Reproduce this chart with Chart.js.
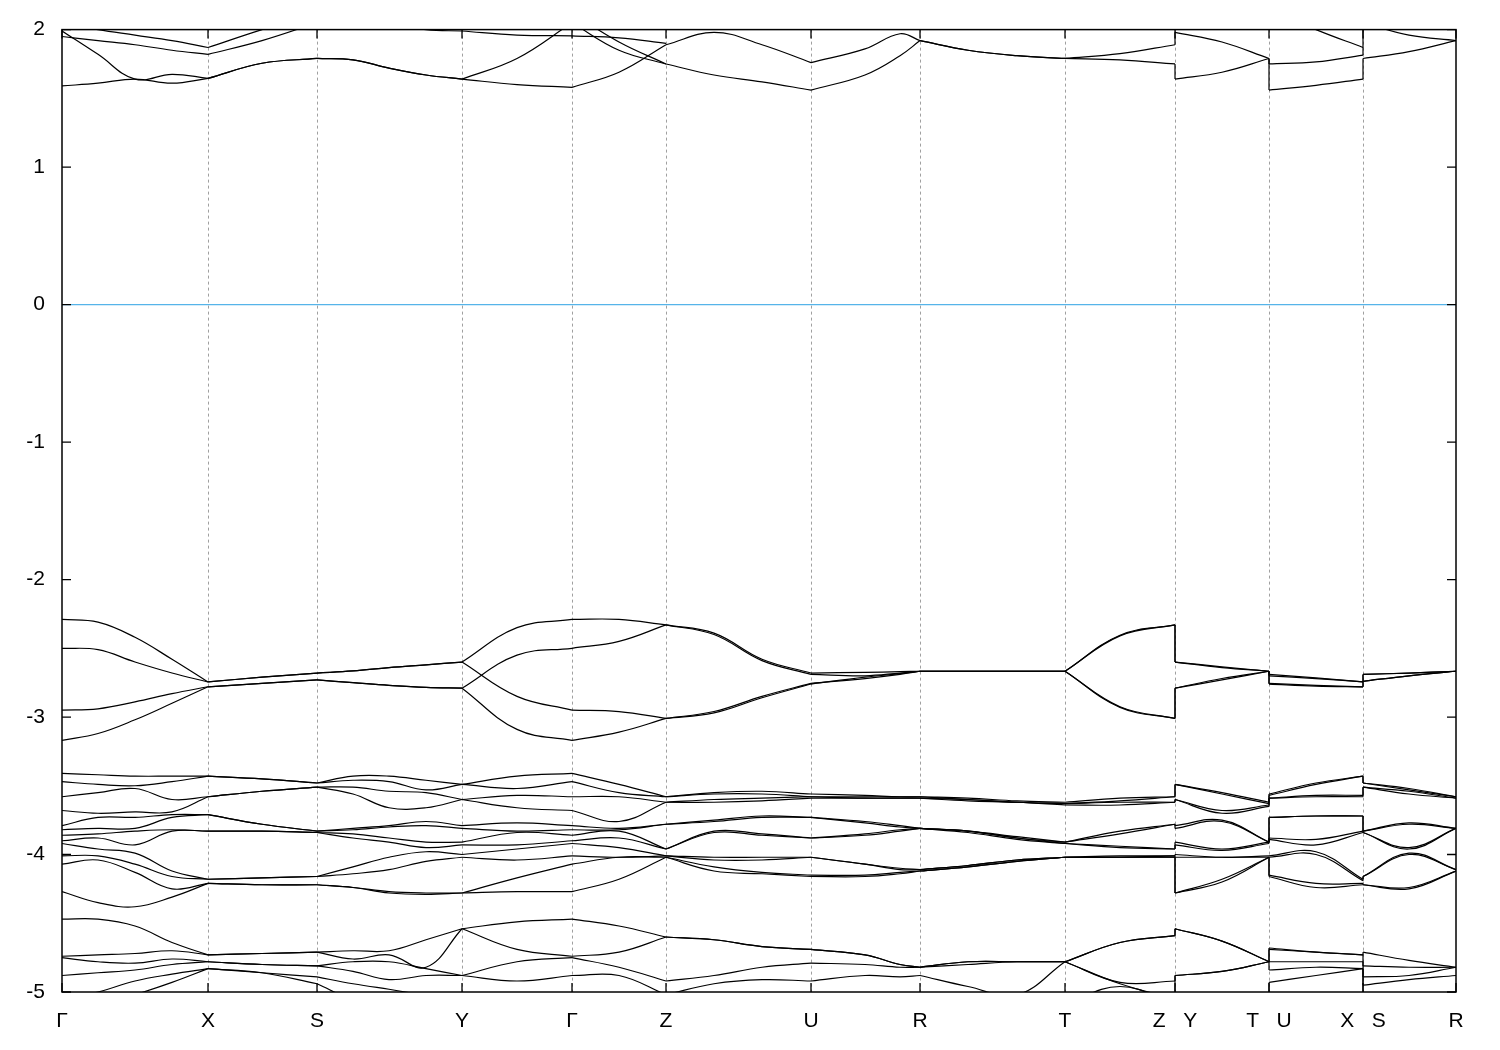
<!DOCTYPE html>
<html>
<head>
<meta charset="utf-8">
<script src="https://cdn.jsdelivr.net/npm/chart.js@4.4.1/dist/chart.umd.min.js"></script>
<style>
  html, body { margin: 0; padding: 0; background: #fff; }
</style>
</head>
<body>
<canvas id="bands" width="1500" height="1050"></canvas>
<script>
// k-path (distance along the path) where energies were read
const kPath = [0, 0.036, 0.073, 0.110, 0.146, 0.200, 0.255, 0.291, 0.327, 0.364, 0.400, 0.455, 0.510, 0.557,
  0.604, 0.652, 0.700, 0.749, 0.803, 0.838, 0.858, 0.906, 0.955, 1.003, 1.058, 1.113, 1.113, 1.160, 1.207, 1.207,
  1.254, 1.301, 1.301, 1.347, 1.394];
// high symmetry points
const kTicks = [0, 0.146, 0.255, 0.400, 0.510, 0.604, 0.749, 0.858, 1.003, 1.113, 1.207, 1.301, 1.394];
const kLabels = ['Γ', 'X', 'S', 'Y', 'Γ', 'Z', 'U', 'R', 'T', 'Z   Y', 'T   U', 'X   S', 'R'];
// indexes of kPath where a path piece starts/ends (jumps included)
const segBreaks = [0, 4, 6, 10, 12, 14, 17, 20, 23, 25, 26, 28, 29, 31, 32, 34];
const eTicks = [2, 1, 0, -1, -2, -3, -4, -5];
const eFermi = 0;

// a line that only exists on part of the path
function pathLine(from, vals) {
  const a = kPath.map(() => null);
  vals.forEach((v, i) => { a[from + i] = v; });
  return a;
}

// conduction lines (eV)
const condA = [1.59, 1.61, 1.64, 1.61, 1.645, 1.755, 1.79, 1.78, 1.72, 1.67, 1.64, 1.60, 1.58, 1.69, 1.89, 1.98, 1.89,
  1.76, 1.86, 1.97, 1.92, 1.85, 1.81, 1.79, 1.825, 1.89, 1.98, 1.91, 1.79, 1.75, 1.765, 1.815, 2.05, 1.96, 1.92];
const condB = [1.99, 1.82, 1.64, 1.675, 1.645, 1.755, 1.79, 1.78, 1.72, 1.67, 1.64, 1.79, 2.05, 1.85, 1.75, 1.67, 1.62,
  1.56, 1.67, 1.81, 1.92, 1.85, 1.81, 1.79, 1.78, 1.75, 1.64, 1.69, 1.79, 1.56, 1.595, 1.64, 1.79, 1.84, 1.92];
const condC = pathLine(8, [2.05, 2.00, 1.99, 1.96, 1.955, 1.94, 1.90]);
const condD = pathLine(0, [1.95, 1.92, 1.89, 1.85, 1.82, 1.92, 2.05]);
const condE = pathLine(0, [2.05, 2.00, 1.96, 1.92, 1.87, 2.00, 2.12]);
const condF = pathLine(12, [2.12, 1.91, 1.75]);
const condG = pathLine(29, [2.15, 2.00, 1.87]);

// valence group near -2.3 .. -3.2 eV
const valA = [-2.29, -2.31, -2.42, -2.58, -2.745, -2.71, -2.68, -2.665, -2.64, -2.62, -2.60, -2.35, -2.29, -2.29, -2.33,
  -2.39, -2.58, -2.68, -2.675, -2.67, -2.667, -2.667, -2.667, -2.667, -2.405, -2.33, -2.60, -2.635, -2.667, -2.69,
  -2.715, -2.745, -2.69, -2.68, -2.667];
const valB = [-2.50, -2.51, -2.60, -2.68, -2.745, -2.71, -2.68, -2.665, -2.64, -2.62, -2.60, -2.85, -2.95, -2.96, -3.01,
  -2.96, -2.85, -2.755, -2.72, -2.69, -2.667, -2.667, -2.667, -2.667, -2.925, -3.01, -2.79, -2.72, -2.667, -2.755,
  -2.77, -2.78, -2.74, -2.70, -2.667];
const valC = [-2.95, -2.94, -2.89, -2.83, -2.78, -2.755, -2.73, -2.75, -2.77, -2.785, -2.79, -2.55, -2.50, -2.45, -2.33,
  -2.40, -2.59, -2.69, -2.70, -2.68, -2.667, -2.667, -2.667, -2.667, -2.41, -2.33, -2.60, -2.64, -2.667, -2.70,
  -2.72, -2.745, -2.69, -2.68, -2.667];
const valD = [-3.17, -3.12, -3.02, -2.90, -2.78, -2.755, -2.73, -2.75, -2.77, -2.785, -2.79, -3.09, -3.17, -3.11, -3.01,
  -2.97, -2.86, -2.76, -2.71, -2.685, -2.667, -2.667, -2.667, -2.667, -2.93, -3.01, -2.79, -2.73, -2.667, -2.76,
  -2.775, -2.78, -2.74, -2.70, -2.667];

// group -3.4 .. -4.4 eV, one row per kPath point (12 bands, sorted)
const deepCols = [
  [-3.41, -3.47, -3.58, -3.68, -3.79, -3.82, -3.86, -3.90, -3.92, -4.01, -4.07, -4.27],
  [-3.42, -3.49, -3.55, -3.70, -3.73, -3.81, -3.85, -3.88, -3.96, -4.01, -4.04, -4.35],
  [-3.43, -3.50, -3.52, -3.69, -3.73, -3.81, -3.83, -3.93, -3.99, -4.07, -4.13, -4.38],
  [-3.43, -3.47, -3.60, -3.69, -3.71, -3.73, -3.82, -3.83, -4.12, -4.16, -4.25, -4.31],
  [-3.43, -3.43, -3.58, -3.58, -3.71, -3.71, -3.83, -3.83, -4.18, -4.18, -4.21, -4.21],
  [-3.45, -3.45, -3.54, -3.54, -3.78, -3.78, -3.83, -3.83, -4.17, -4.17, -4.22, -4.22],
  [-3.48, -3.48, -3.51, -3.51, -3.83, -3.83, -3.84, -3.84, -4.16, -4.16, -4.22, -4.22],
  [-3.43, -3.46, -3.51, -3.56, -3.81, -3.82, -3.85, -3.88, -4.09, -4.14, -4.24, -4.24],
  [-3.43, -3.47, -3.54, -3.66, -3.79, -3.80, -3.88, -3.91, -4.02, -4.11, -4.27, -4.28],
  [-3.46, -3.53, -3.55, -3.66, -3.76, -3.79, -3.91, -3.95, -3.98, -4.05, -4.28, -4.29],
  [-3.49, -3.49, -3.60, -3.60, -3.79, -3.81, -3.91, -3.93, -4.00, -4.02, -4.28, -4.28],
  [-3.43, -3.52, -3.57, -3.66, -3.77, -3.83, -3.84, -3.93, -3.96, -4.04, -4.17, -4.27],
  [-3.41, -3.47, -3.58, -3.68, -3.79, -3.82, -3.86, -3.90, -3.92, -4.01, -4.07, -4.27],
  [-3.49, -3.55, -3.58, -3.76, -3.81, -3.82, -3.83, -3.88, -3.95, -4.02, -4.02, -4.18],
  [-3.58, -3.58, -3.62, -3.62, -3.78, -3.78, -3.96, -3.96, -4.01, -4.01, -4.02, -4.02],
  [-3.55, -3.56, -3.60, -3.62, -3.75, -3.76, -3.83, -3.84, -4.02, -4.04, -4.09, -4.12],
  [-3.54, -3.56, -3.59, -3.61, -3.72, -3.73, -3.85, -3.86, -4.02, -4.04, -4.13, -4.14],
  [-3.56, -3.58, -3.58, -3.59, -3.73, -3.73, -3.88, -3.88, -4.02, -4.02, -4.15, -4.16],
  [-3.57, -3.58, -3.59, -3.59, -3.76, -3.77, -3.85, -3.86, -4.07, -4.07, -4.15, -4.16],
  [-3.58, -3.58, -3.59, -3.59, -3.79, -3.80, -3.82, -3.83, -4.10, -4.11, -4.13, -4.14],
  [-3.58, -3.58, -3.59, -3.59, -3.81, -3.81, -3.81, -3.81, -4.11, -4.11, -4.12, -4.12],
  [-3.59, -3.60, -3.60, -3.61, -3.83, -3.83, -3.83, -3.84, -4.08, -4.08, -4.09, -4.09],
  [-3.61, -3.62, -3.62, -3.62, -3.87, -3.88, -3.88, -3.89, -4.04, -4.04, -4.05, -4.05],
  [-3.62, -3.63, -3.63, -3.64, -3.91, -3.91, -3.92, -3.92, -4.02, -4.02, -4.02, -4.02],
  [-3.59, -3.61, -3.62, -3.64, -3.83, -3.85, -3.94, -3.95, -4.01, -4.02, -4.02, -4.02],
  [-3.58, -3.58, -3.62, -3.62, -3.78, -3.78, -3.96, -3.96, -4.01, -4.01, -4.02, -4.02],
  [-3.49, -3.49, -3.60, -3.60, -3.79, -3.81, -3.91, -3.93, -4.00, -4.02, -4.28, -4.28],
  [-3.55, -3.56, -3.68, -3.70, -3.75, -3.76, -3.96, -3.97, -4.02, -4.02, -4.18, -4.20],
  [-3.62, -3.63, -3.64, -3.65, -3.91, -3.91, -3.91, -3.92, -4.01, -4.02, -4.02, -4.02],
  [-3.56, -3.57, -3.59, -3.59, -3.73, -3.73, -3.88, -3.89, -4.01, -4.02, -4.15, -4.16],
  [-3.48, -3.49, -3.57, -3.58, -3.72, -3.72, -3.89, -3.93, -3.98, -4.00, -4.21, -4.24],
  [-3.43, -3.43, -3.57, -3.58, -3.72, -3.72, -3.83, -3.84, -4.18, -4.19, -4.21, -4.22],
  [-3.48, -3.48, -3.51, -3.51, -3.83, -3.83, -3.84, -3.84, -4.16, -4.16, -4.22, -4.22],
  [-3.52, -3.53, -3.54, -3.56, -3.77, -3.78, -3.95, -3.96, -3.99, -4.00, -4.24, -4.25],
  [-3.58, -3.58, -3.59, -3.59, -3.81, -3.81, -3.81, -3.81, -4.11, -4.11, -4.12, -4.12]
];

// group -4.4 .. -5 eV, one row per kPath point (7 bands, sorted)
const lowCols = [
  [-4.47, -4.74, -4.75, -4.88, -5.05, -5.13, -5.20],
  [-4.47, -4.73, -4.78, -4.86, -5.00, -5.10, -5.20],
  [-4.52, -4.72, -4.79, -4.84, -4.92, -5.02, -5.15],
  [-4.64, -4.70, -4.76, -4.80, -4.87, -4.93, -5.02],
  [-4.73, -4.73, -4.78, -4.78, -4.83, -4.83, -5.09],
  [-4.72, -4.72, -4.80, -4.80, -4.86, -4.86, -5.09],
  [-4.71, -4.71, -4.81, -4.81, -4.89, -4.94, -5.09],
  [-4.70, -4.76, -4.78, -4.85, -4.94, -5.05, -5.15],
  [-4.70, -4.73, -4.78, -4.91, -4.98, -5.05, -5.15],
  [-4.62, -4.82, -4.83, -4.88, -5.02, -5.09, -5.15],
  [-4.54, -4.54, -4.88, -4.88, -5.02, -5.13, -5.20],
  [-4.49, -4.69, -4.78, -4.92, -5.05, -5.13, -5.20],
  [-4.47, -4.74, -4.75, -4.88, -5.05, -5.13, -5.20],
  [-4.52, -4.71, -4.82, -4.88, -5.05, -5.13, -5.20],
  [-4.60, -4.60, -4.92, -5.02, -5.09, -5.13, -5.20],
  [-4.62, -4.62, -4.88, -4.94, -5.07, -5.13, -5.20],
  [-4.67, -4.67, -4.82, -4.91, -5.05, -5.13, -5.20],
  [-4.69, -4.69, -4.79, -4.92, -5.05, -5.13, -5.20],
  [-4.73, -4.73, -4.80, -4.88, -5.05, -5.13, -5.20],
  [-4.80, -4.80, -4.82, -4.89, -5.05, -5.13, -5.20],
  [-4.82, -4.82, -4.82, -4.88, -5.05, -5.13, -5.20],
  [-4.78, -4.78, -4.80, -4.96, -5.07, -5.13, -5.20],
  [-4.78, -4.78, -4.78, -5.02, -5.09, -5.13, -5.20],
  [-4.78, -4.78, -4.78, -4.78, -5.09, -5.13, -5.20],
  [-4.64, -4.64, -4.93, -4.94, -4.96, -5.13, -5.20],
  [-4.59, -4.59, -4.92, -5.05, -5.09, -5.13, -5.20],
  [-4.54, -4.54, -4.88, -4.88, -5.02, -5.13, -5.20],
  [-4.63, -4.63, -4.85, -4.85, -5.05, -5.13, -5.20],
  [-4.78, -4.78, -4.78, -4.78, -5.05, -5.13, -5.20],
  [-4.68, -4.69, -4.78, -4.84, -4.93, -5.09, -5.20],
  [-4.71, -4.71, -4.78, -4.82, -4.88, -5.09, -5.20],
  [-4.73, -4.73, -4.78, -4.83, -4.83, -5.09, -5.20],
  [-4.71, -4.81, -4.89, -4.95, -5.05, -5.13, -5.20],
  [-4.77, -4.82, -4.88, -4.91, -5.05, -5.13, -5.20],
  [-4.82, -4.82, -4.82, -4.88, -5.05, -5.13, -5.20]
];

// rows (one per k) -> bands (one per line)
function toBands(cols) {
  return cols[0].map((_, b) => cols.map(c => c[b]));
}

const allBands = [condA, condB, condC, condD, condE, condF, condG, valA, valB, valC, valD]
  .concat(toBands(deepCols), toBands(lowCols));

const datasets = [];

// fermi level
datasets.push({
  data: [{x: kTicks[0], y: eFermi}, {x: kTicks[kTicks.length - 1], y: eFermi}],
  borderColor: '#56b4e9',
  borderWidth: 1.3,
  pointRadius: 0,
  tension: 0
});

// each band is split at the high symmetry points so the kinks stay sharp
allBands.forEach(band => {
  for (let s = 0; s < segBreaks.length - 1; s++) {
    const pts = [];
    for (let i = segBreaks[s]; i <= segBreaks[s + 1]; i++) {
      pts.push({x: kPath[i], y: band[i]});
    }
    if (pts.every(p => p.y === null)) continue;
    datasets.push({
      data: pts,
      borderColor: '#000',
      borderWidth: 1.2,
      pointRadius: 0,
      tension: 0.4,
      spanGaps: false
    });
  }
});

// dotted lines, frame and inward ticks like gnuplot
const framePlugin = {
  id: 'frame',
  beforeDatasetsDraw(chart) {
    const {ctx, chartArea: a, scales: {x}} = chart;
    ctx.save();
    ctx.strokeStyle = '#a0a0a0';
    ctx.lineWidth = 1;
    ctx.setLineDash([3, 3]);
    ctx.beginPath();
    kTicks.slice(1, -1).forEach(v => {
      const px = Math.round(x.getPixelForValue(v)) + 0.5;
      ctx.moveTo(px, a.top);
      ctx.lineTo(px, a.bottom);
    });
    ctx.stroke();
    ctx.restore();
  },
  afterDatasetsDraw(chart) {
    const {ctx, chartArea: a, scales: {x, y}} = chart;
    ctx.save();
    ctx.strokeStyle = '#000';
    ctx.lineWidth = 1.5;
    ctx.strokeRect(a.left, a.top, a.right - a.left, a.bottom - a.top);
    ctx.lineWidth = 1.3;
    ctx.beginPath();
    eTicks.forEach(v => {
      const py = y.getPixelForValue(v);
      ctx.moveTo(a.left, py); ctx.lineTo(a.left + 9, py);
      ctx.moveTo(a.right, py); ctx.lineTo(a.right - 9, py);
    });
    kTicks.forEach(v => {
      const px = x.getPixelForValue(v);
      ctx.moveTo(px, a.top); ctx.lineTo(px, a.top + 9);
      ctx.moveTo(px, a.bottom); ctx.lineTo(px, a.bottom - 9);
    });
    ctx.stroke();
    ctx.restore();
  }
};

new Chart(document.getElementById('bands'), {
  type: 'line',
  data: {datasets: datasets},
  options: {
    responsive: false,
    animation: false,
    events: [],
    layout: {padding: {top: 28, right: 44, left: 0, bottom: 0}},
    plugins: {legend: {display: false}, tooltip: {enabled: false}},
    scales: {
      x: {
        type: 'linear',
        min: kTicks[0],
        max: kTicks[kTicks.length - 1],
        afterBuildTicks: s => { s.ticks = kTicks.map(v => ({value: v})); },
        afterFit: s => { s.height = 58; },
        grid: {display: false, drawTicks: false},
        border: {display: false},
        ticks: {
          autoSkip: false,
          maxRotation: 0,
          padding: 17,
          color: '#000',
          font: {family: 'Liberation Sans', size: 21},
          callback: (v, i) => kLabels[i]
        }
      },
      y: {
        type: 'linear',
        min: -5,
        max: 2,
        afterBuildTicks: s => { s.ticks = eTicks.map(v => ({value: v})); },
        afterFit: s => { s.width = 62; },
        grid: {display: false, drawTicks: false},
        border: {display: false},
        ticks: {
          padding: 17,
          color: '#000',
          font: {family: 'Liberation Sans', size: 21},
          callback: v => String(v)
        }
      }
    }
  },
  plugins: [framePlugin]
});
</script>
</body>
</html>
